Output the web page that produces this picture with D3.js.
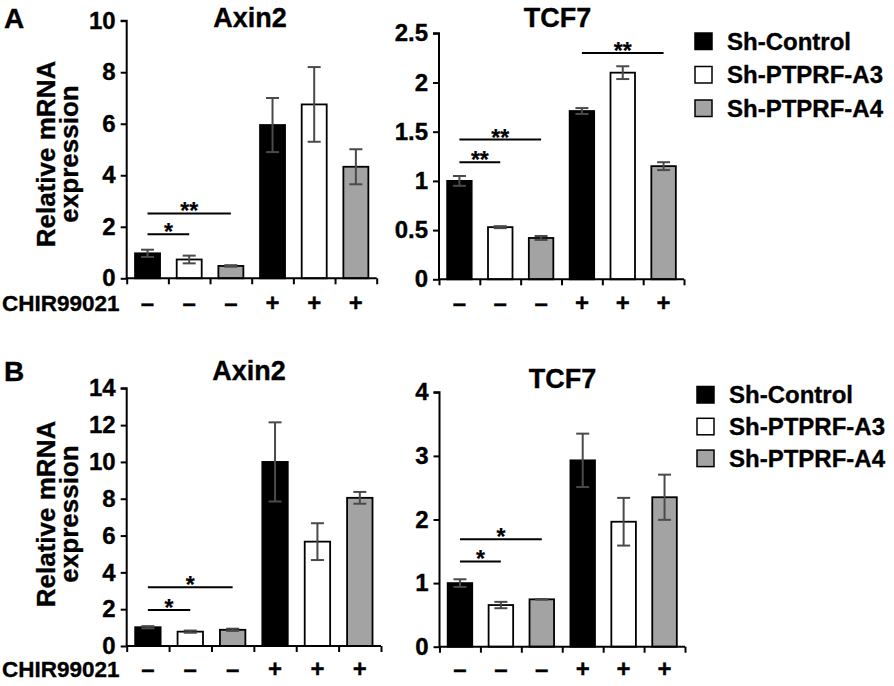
<!DOCTYPE html>
<html>
<head>
<meta charset="utf-8">
<script src="https://cdn.jsdelivr.net/npm/d3@7"></script>
<style>
  html, body { margin: 0; padding: 0; background: #fff; }
  svg { display: block; }
  text { font-family: "Liberation Sans", Arial, sans-serif; font-weight: bold; fill: #000; stroke: #000; stroke-width: 0.35px; }
</style>
</head>
<body>
<svg id="chart" width="894" height="686"></svg>
<script>
// ---------- data ----------
const groups = ["Sh-Control", "Sh-PTPRF-A3", "Sh-PTPRF-A4"];
const chirSigns = ["–", "–", "–", "+", "+", "+"];
const chirLabel = "CHIR99021";
const yLabelLines = ["Relative mRNA", "expression"];

const aAxin2 = [0.97, 0.73, 0.48, 5.95, 6.75, 4.33];
const aAxin2Err = [0.14, 0.15, 0.03, 1.05, 1.45, 0.68];
const aTcf7 = [1.00, 0.53, 0.42, 1.71, 2.10, 1.15];
const aTcf7Err = [0.05, 0.01, 0.02, 0.03, 0.065, 0.04];
const bAxin2 = [1.02, 0.78, 0.88, 10.0, 5.67, 8.05];
const bAxin2Err = [0.06, 0.06, 0.06, 2.15, 1.00, 0.32];
const bTcf7 = [1.00, 0.655, 0.745, 2.93, 1.965, 2.35];
const bTcf7Err = [0.06, 0.05, 0.005, 0.42, 0.375, 0.355];

const aAxin2Ticks = [0, 2, 4, 6, 8, 10];
const aTcf7Ticks = [0, 0.5, 1, 1.5, 2, 2.5];
const bAxin2Ticks = [0, 2, 4, 6, 8, 10, 12, 14];
const bTcf7Ticks = [0, 1, 2, 3, 4];

// significance: [fromIndex, toIndex, yValue, label]
const aAxin2Sig = [[0, 1, 1.71, "*"], [0, 2, 2.52, "**"]];
const aTcf7Sig = [[0, 1, 1.19, "**"], [0, 2, 1.42, "**"], [3, 5, 2.30, "**"]];
const bAxin2Sig = [[0, 1, 1.96, "*"], [0, 2, 3.19, "*"]];
const bTcf7Sig = [[0, 1, 1.34, "*"], [0, 2, 1.69, "*"]];

// ---------- styles ----------
const fills = ["#000000", "#ffffff", "#a3a3a3"];
const seriesIdx = [0, 1, 2, 0, 1, 2];

const svg = d3.select("#chart");

const panels = [
  { title: "Axin2", vals: aAxin2, errs: aAxin2Err, ticks: aAxin2Ticks, sig: aAxin2Sig,
    x0: 126.7, x1: 376.7, yTop: 20.7, yBot: 278.3, titleX: 250, titleY: 27, signY: 311, showY: true, labY: 154, letter: "A", letterY: 28 },
  { title: "TCF7", vals: aTcf7, errs: aTcf7Err, ticks: aTcf7Ticks, sig: aTcf7Sig,
    x0: 439, x1: 684, yTop: 33.3, yBot: 279.3, titleX: 557.5, titleY: 27, signY: 311, showY: false },
  { title: "Axin2", vals: bAxin2, errs: bAxin2Err, ticks: bAxin2Ticks, sig: bAxin2Sig,
    x0: 126.7, x1: 381, yTop: 388.3, yBot: 646, titleX: 249, titleY: 380, signY: 677, showY: true, labY: 514, letter: "B", letterY: 381 },
  { title: "TCF7", vals: bTcf7, errs: bTcf7Err, ticks: bTcf7Ticks, sig: bTcf7Sig,
    x0: 439.5, x1: 685, yTop: 392.3, yBot: 646.7, titleX: 562.5, titleY: 388, signY: 677, showY: false }
];

panels.forEach(p => {
  const g = svg.append("g");
  const idx = d3.range(p.vals.length);
  const x = d3.scaleBand().domain(idx).range([p.x0, p.x1]).padding(0);
  const y = d3.scaleLinear().domain([0, p.ticks[p.ticks.length - 1]]).range([p.yBot, p.yTop]);
  const bw = x.bandwidth() * 0.6;

  // bars
  g.selectAll("rect.bar").data(idx).join("rect")
    .attr("class", "bar")
    .attr("x", i => x(i) + (x.bandwidth() - bw) / 2)
    .attr("y", i => y(p.vals[i]))
    .attr("width", bw)
    .attr("height", i => y(0) - y(p.vals[i]))
    .attr("fill", i => fills[seriesIdx[i]])
    .attr("stroke", "#000")
    .attr("stroke-width", 1.8);

  // error bars
  const eg = g.append("g").attr("stroke", "#4a4a4a").attr("stroke-width", 2);
  idx.forEach(i => {
    const cx = x(i) + x.bandwidth() / 2;
    const lo = y(p.vals[i] - p.errs[i]), hi = y(p.vals[i] + p.errs[i]);
    eg.append("line").attr("x1", cx).attr("x2", cx).attr("y1", lo).attr("y2", hi);
    eg.append("line").attr("x1", cx - 6.5).attr("x2", cx + 6.5).attr("y1", lo).attr("y2", lo);
    eg.append("line").attr("x1", cx - 6.5).attr("x2", cx + 6.5).attr("y1", hi).attr("y2", hi);
  });

  // y axis
  const yAxis = d3.axisLeft(y).tickValues(p.ticks).tickSize(6).tickPadding(5).tickFormat(d3.format("~g"));
  const ya = g.append("g").attr("transform", `translate(${p.x0},0)`).call(yAxis);
  ya.select(".domain").attr("stroke", "#000").attr("stroke-width", 2)
    .attr("d", `M-6,${p.yTop}H0V${p.yBot}`);
  ya.selectAll(".tick line").attr("stroke", "#000").attr("stroke-width", 2);
  ya.selectAll(".tick text").style("font-size", "24px").style("font-family", "'Liberation Sans', Arial, sans-serif")
    .style("font-weight", "bold").attr("fill", "#000");

  // x axis (ticks at band boundaries)
  const xb = d3.scaleLinear().domain([0, p.vals.length]).range([p.x0, p.x1]);
  const xAxis = d3.axisBottom(xb).ticks(p.vals.length).tickSize(6).tickFormat("");
  const xa = g.append("g").attr("transform", `translate(0,${p.yBot})`).call(xAxis);
  xa.select(".domain").attr("stroke", "#000").attr("stroke-width", 2).attr("d", `M${p.x0},0H${p.x1}`);
  xa.selectAll(".tick line").attr("stroke", "#000").attr("stroke-width", 2);

  // CHIR signs
  g.selectAll("text.sign").data(idx).join("text")
    .attr("class", "sign")
    .attr("x", i => x(i) + x.bandwidth() / 2)
    .attr("y", p.signY)
    .attr("text-anchor", "middle")
    .style("font-size", "24px")
    .text(i => chirSigns[i]);

  // title
  g.append("text").attr("x", p.titleX).attr("y", p.titleY).attr("text-anchor", "middle")
    .style("font-size", "27px").text(p.title);

  // significance
  p.sig.forEach(s => {
    const xa0 = x(s[0]) + x.bandwidth() / 2, xa1 = x(s[1]) + x.bandwidth() / 2;
    const yy = y(s[2]);
    g.append("line").attr("x1", xa0).attr("x2", xa1).attr("y1", yy).attr("y2", yy)
      .attr("stroke", "#000").attr("stroke-width", 2);
    g.append("text").attr("x", (xa0 + xa1) / 2).attr("y", yy + 6).attr("text-anchor", "middle")
      .style("font-size", "23px").style("stroke-width", "0.2px").text(s[3]);
  });

  if (p.showY) {
    const lab = g.append("text").attr("transform", `translate(55,${p.labY}) rotate(-90)`)
      .attr("text-anchor", "middle").style("font-size", "26px");
    lab.append("tspan").attr("x", 0).attr("y", 0).text(yLabelLines[0]);
    lab.append("tspan").attr("x", 0).attr("y", 23).text(yLabelLines[1]);
    g.append("text").attr("x", 2).attr("y", p.signY).style("font-size", "22.5px").text(chirLabel);
    g.append("text").attr("x", 4).attr("y", p.letterY).style("font-size", "28px").text(p.letter);
  }
});

// legends
const legends = [{ x: 695, y: 33, dy: 33.5 }, { x: 697, y: 386.5, dy: 31.8 }];
legends.forEach(L => {
  const lg = svg.append("g");
  groups.forEach((name, i) => {
    lg.append("rect").attr("x", L.x).attr("y", L.y + i * L.dy).attr("width", 17).attr("height", 16.5)
      .attr("fill", fills[i]).attr("stroke", "#000").attr("stroke-width", 1.5);
    lg.append("text").attr("x", L.x + 32).attr("y", L.y + i * L.dy + 16.5)
      .style("font-size", "24px").text(name);
  });
});
</script>
</body>
</html>
